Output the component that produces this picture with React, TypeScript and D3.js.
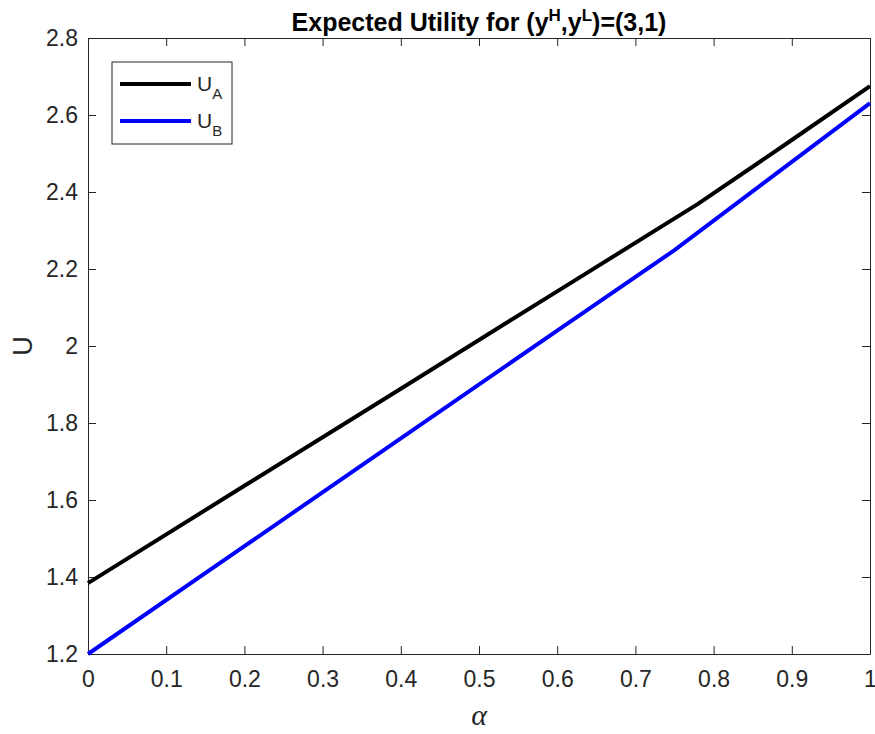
import React, { useRef, useEffect } from 'react';
import * as d3 from 'd3';

// alpha values and expected utility
const alphaA = [0, 0.2, 0.4, 0.6, 0.78, 0.9, 1];
const utilA = [1.384, 1.637, 1.889, 2.142, 2.369, 2.535, 2.675];
const alphaB = [0, 0.2, 0.4, 0.6, 0.75, 0.9, 1];
const utilB = [1.2, 1.48, 1.76, 2.04, 2.249, 2.478, 2.631];
const xTicks = [0, 0.1, 0.2, 0.3, 0.4, 0.5, 0.6, 0.7, 0.8, 0.9, 1];
const yTicks = [1.2, 1.4, 1.6, 1.8, 2, 2.2, 2.4, 2.6, 2.8];

const App = () => {
    const svgref = useRef<SVGSVGElement | null>(null);

    const margin = { top: 38, right: 5, bottom: 80, left: 88 };
    const W = 875, H = 734;
    const width = W - margin.left - margin.right,
        height = H - margin.top - margin.bottom;

    const drawSvg = () => {
        const root = d3.select(svgref.current);
        root.selectAll('*').remove();
        const font = 'Liberation Sans, Arial, sans-serif';
        const axisColor = '#262626';

        const svg = root.append('g')
            .attr('transform', `translate(${margin.left},${margin.top})`);

        const x = d3.scaleLinear().domain([0, 1]).range([0, width]);
        const y = d3.scaleLinear().domain([1.2, 2.8]).range([height, 0]);

        // axes, MATLAB style: ticks inward on all four sides
        const fmt = (d: any) => d3.format('')(+d.toFixed(1));
        const styleAxis = (g: any) => {
            g.selectAll('path').attr('stroke', axisColor).attr('stroke-width', 1);
            g.selectAll('line').attr('stroke', axisColor).attr('stroke-width', 1);
            g.selectAll('text').attr('fill', axisColor).style('font-family', font).style('font-size', '23px');
        };

        svg.append('g')
            .attr('transform', `translate(0,${height})`)
            .call(d3.axisBottom(x).tickValues(xTicks).tickSizeInner(-8).tickSizeOuter(0).tickPadding(17).tickFormat(fmt))
            .call(styleAxis);
        svg.append('g')
            .call(d3.axisTop(x).tickValues(xTicks).tickSizeInner(-8).tickSizeOuter(0).tickFormat(() => ''))
            .call(styleAxis);
        svg.append('g')
            .call(d3.axisLeft(y).tickValues(yTicks).tickSizeInner(-8).tickSizeOuter(0).tickPadding(10).tickFormat(fmt))
            .call(styleAxis);
        svg.append('g')
            .attr('transform', `translate(${width},0)`)
            .call(d3.axisRight(y).tickValues(yTicks).tickSizeInner(-8).tickSizeOuter(0).tickFormat(() => ''))
            .call(styleAxis);

        // lines
        const line = d3.line<[number, number]>()
            .x(d => x(d[0]))
            .y(d => y(d[1]));
        const seriesA = alphaA.map((a, i) => [a, utilA[i]] as [number, number]);
        const seriesB = alphaB.map((a, i) => [a, utilB[i]] as [number, number]);

        svg.append('path').datum(seriesA)
            .attr('d', line).attr('fill', 'none')
            .attr('stroke', '#000000').attr('stroke-width', 4);
        svg.append('path').datum(seriesB)
            .attr('d', line).attr('fill', 'none')
            .attr('stroke', '#0000ff').attr('stroke-width', 4);

        // legend
        const leg = svg.append('g').attr('transform', 'translate(24,24)');
        leg.append('rect')
            .attr('width', 120).attr('height', 82)
            .attr('fill', '#fff').attr('stroke', axisColor).attr('stroke-width', 1);
        [['A', '#000000', 22], ['B', '#0000ff', 59]].forEach(([sub, c, yy]: any) => {
            leg.append('line')
                .attr('x1', 8).attr('x2', 79).attr('y1', yy).attr('y2', yy)
                .attr('stroke', c).attr('stroke-width', 4);
            const t = leg.append('text')
                .attr('x', 85).attr('y', yy + 7)
                .attr('fill', axisColor)
                .style('font-family', font).style('font-size', '21px');
            t.append('tspan').text('U');
            t.append('tspan').attr('dy', 8).style('font-size', '15px').text(sub);
        });

        // title with superscripts
        const title = root.append('text')
            .attr('x', margin.left + width / 2).attr('y', 31)
            .attr('text-anchor', 'middle')
            .attr('fill', '#000')
            .style('font-family', font).style('font-size', '25px').style('font-weight', 'bold');
        title.append('tspan').text('Expected Utility for (y');
        title.append('tspan').attr('dy', -10).style('font-size', '17px').text('H');
        title.append('tspan').attr('dy', 10).text(',y');
        title.append('tspan').attr('dy', -10).style('font-size', '17px').text('L');
        title.append('tspan').attr('dy', 10).text(')=(3,1)');

        // axis labels
        root.append('text')
            .attr('transform', `translate(32,${margin.top + height / 2}) rotate(-90)`)
            .attr('text-anchor', 'middle')
            .attr('fill', axisColor)
            .style('font-family', font).style('font-size', '27px')
            .text('U');
        root.append('text')
            .attr('x', margin.left + width / 2).attr('y', 725)
            .attr('text-anchor', 'middle')
            .attr('fill', axisColor)
            .style('font-family', 'Liberation Serif, serif').style('font-style', 'italic').style('font-size', '30px')
            .text('α');
    };

    useEffect(() => {
        drawSvg();
    }, []);

    return (
        <div style={{ position: 'absolute', left: 0, top: 0 }}>
            <svg ref={svgref} width={W} height={H} style={{ display: 'block', background: '#fff' }}></svg>
        </div>
    );
};

export default App;
